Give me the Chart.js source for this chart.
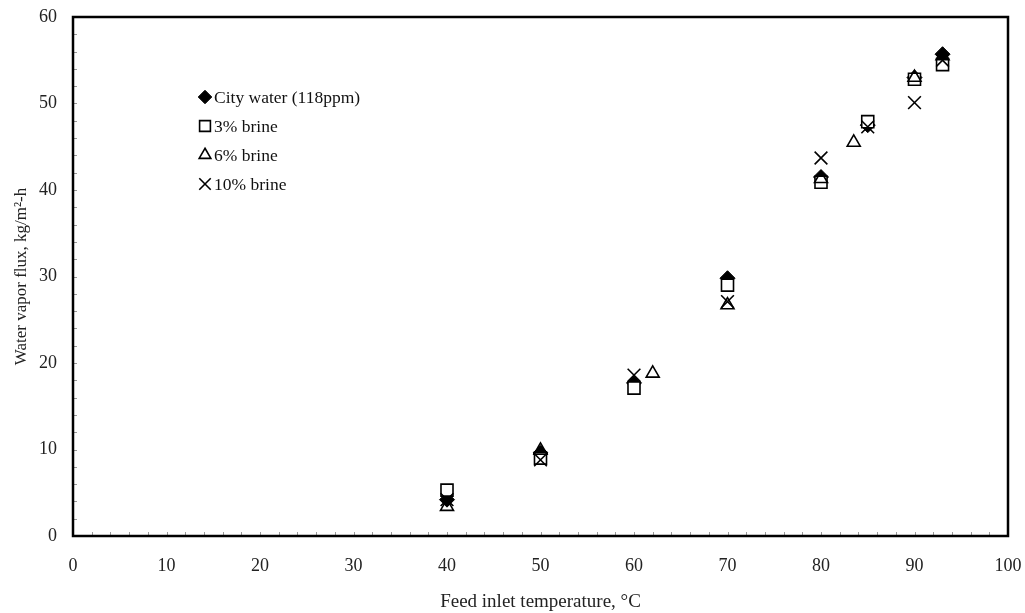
<!DOCTYPE html>
<html>
<head>
<meta charset="utf-8">
<script src="https://cdn.jsdelivr.net/npm/chart.js@4/dist/chart.umd.min.js"></script>
<style>
  html, body { margin: 0; padding: 0; background: #fff; }
  #wrap { width: 1025px; height: 613px; position: relative; }
</style>
</head>
<body>
<div id="wrap"><canvas id="flux"></canvas></div>
<script>
// data
const cityX = [40, 50, 60, 70, 80, 85, 90, 93];
const cityY = [4.2, 9.6, 17.7, 29.8, 41.5, 47.5, 53.0, 55.7];
const brine3X = [40, 50, 60, 70, 80, 85, 90, 93];
const brine3Y = [5.3, 9.0, 17.1, 29.0, 40.9, 47.9, 52.8, 54.5];
const brine6X = [40, 50, 62, 70, 80, 83.5, 90, 93];
const brine6Y = [3.4, 9.9, 18.8, 26.7, 41.3, 45.5, 53.0, 55.5];
const brine10X = [40, 50, 60, 70, 80, 85, 90, 93];
const brine10Y = [4.2, 8.8, 18.6, 27.1, 43.7, 47.3, 50.1, 55.0];
const xTicks = [0, 10, 20, 30, 40, 50, 60, 70, 80, 90, 100];
const yTicks = [0, 10, 20, 30, 40, 50, 60];

const seriesNames = ['City water (118ppm)', '3% brine', '6% brine', '10% brine'];

function pts(xs, ys){
    return xs.map((x, i) => ({x: x, y: ys[i]}));
}

const serif = "'Liberation Serif', 'Times New Roman', serif";

// frame + inner minor ticks
const framePlugin = {
    id: 'frame',
    afterDatasetsDraw(chart){
        const {ctx, chartArea: a, scales} = chart;
        ctx.save();
        ctx.strokeStyle = '#999';
        ctx.lineWidth = 1;
        for(let v = 2; v < 100; v += 2){
            const px = Math.round(scales.x.getPixelForValue(v)) + 0.5;
            ctx.beginPath();
            ctx.moveTo(px, a.bottom);
            ctx.lineTo(px, a.bottom - 4);
            ctx.stroke();
        }
        for(let v = 2; v < 60; v += 2){
            const py = Math.round(scales.y.getPixelForValue(v)) + 0.5;
            ctx.beginPath();
            ctx.moveTo(a.left, py);
            ctx.lineTo(a.left + 4, py);
            ctx.stroke();
        }
        ctx.strokeStyle = '#000';
        ctx.lineWidth = 2.5;
        ctx.strokeRect(a.left, a.top, a.right - a.left, a.bottom - a.top);
        ctx.restore();
    }
};

// legend drawn inside the plot area
const boxLegend = {
    id: 'boxLegend',
    afterDraw(chart){
        const ctx = chart.ctx;
        const x0 = 205, y0 = 97, step = 29;
        ctx.save();
        ctx.font = '17.5px ' + serif;
        ctx.textBaseline = 'middle';
        chart.data.datasets.forEach((ds, i) => {
            const y = y0 + i * step;
            ctx.strokeStyle = ds.borderColor;
            ctx.fillStyle = ds.backgroundColor;
            ctx.lineWidth = ds.borderWidth;
            Chart.helpers.drawPoint(ctx, {pointStyle: ds.pointStyle, radius: ds.pointRadius * 0.9, borderWidth: ds.borderWidth}, x0, y);
            ctx.fillStyle = '#111';
            ctx.fillText(seriesNames[i], x0 + 9, y + 1);
        });
        ctx.restore();
    }
};

const ctx = document.getElementById('flux').getContext('2d');
const fluxChart = new Chart(ctx, {
    type: 'scatter',
    data: {
        datasets: [
            {
                label: seriesNames[0],
                data: pts(cityX, cityY),
                pointStyle: 'rectRot',
                pointRadius: 7.5,
                backgroundColor: '#000',
                borderColor: '#000',
                borderWidth: 1,
                order: 4
            },
            {
                label: seriesNames[1],
                data: pts(brine3X, brine3Y),
                pointStyle: 'rect',
                pointRadius: 8.5,
                backgroundColor: '#fff',
                borderColor: '#000',
                borderWidth: 1.6,
                order: 3
            },
            {
                label: seriesNames[2],
                data: pts(brine6X, brine6Y),
                pointStyle: 'triangle',
                pointRadius: 7.5,
                backgroundColor: 'rgba(255,255,255,0)',
                borderColor: '#000',
                borderWidth: 1.6,
                order: 2
            },
            {
                label: seriesNames[3],
                data: pts(brine10X, brine10Y),
                pointStyle: 'crossRot',
                pointRadius: 9,
                backgroundColor: '#000',
                borderColor: '#000',
                borderWidth: 1.6,
                order: 1
            }
        ]
    },
    options: {
        responsive: true,
        maintainAspectRatio: false,
        animation: false,
        layout: {
            padding: {left: 0, top: 17, right: 17, bottom: 0}
        },
        plugins: {
            legend: {display: false},
            tooltip: {enabled: false}
        },
        scales: {
            x: {
                type: 'linear',
                min: 0,
                max: 100,
                afterBuildTicks: (s) => { s.ticks = xTicks.map(v => ({value: v})); },
                afterFit: (s) => {
                    s.height = 77;
                    s.paddingLeft = 0;
                    s.paddingRight = 0;
                },
                grid: {display: false, drawTicks: false},
                border: {display: false},
                ticks: {
                    padding: 19,
                    color: '#222',
                    font: {family: serif, size: 18}
                },
                title: {
                    display: true,
                    text: 'Feed inlet temperature, °C',
                    color: '#222',
                    font: {family: serif, size: 19},
                    padding: {top: 8, bottom: 0}
                }
            },
            y: {
                type: 'linear',
                min: 0,
                max: 60,
                afterBuildTicks: (s) => { s.ticks = yTicks.map(v => ({value: v})); },
                afterFit: (s) => {
                    s.width = 73;
                    s.paddingTop = 0;
                    s.paddingBottom = 0;
                },
                grid: {display: false, drawTicks: false},
                border: {display: false},
                ticks: {
                    padding: 16,
                    color: '#222',
                    font: {family: serif, size: 18}
                },
                title: {
                    display: true,
                    text: 'Water vapor flux, kg/m²-h',
                    color: '#222',
                    font: {family: serif, size: 17},
                    padding: {top: 11, bottom: 0}
                }
            }
        }
    },
    plugins: [framePlugin, boxLegend]
});
</script>
</body>
</html>
